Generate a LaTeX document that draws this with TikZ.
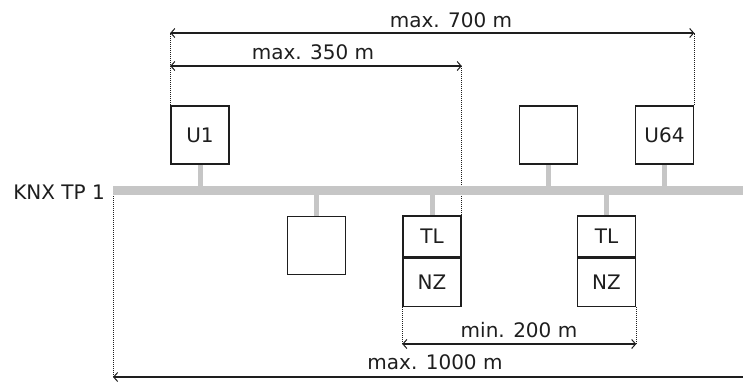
\documentclass[tikz,border=0pt]{standalone}
\usepackage{fontspec}
\setmainfont{DejaVu Sans}
\usetikzlibrary{arrows.meta}
\definecolor{buscolor}{HTML}{C6C6C6}
\definecolor{inkcolor}{HTML}{1E1E1E}

\begin{document}
\begin{tikzpicture}[x=1pt, y=-1pt,
    every node/.style={font=\fontsize{20}{23}\selectfont, text=inkcolor},
    dev/.style={draw=inkcolor, fill=white, line width=1.6pt, minimum width=58pt, minimum height=58pt, inner sep=0pt},
    lab/.style={inner sep=0pt},
    bus/.style={buscolor, line width=9pt},
    stub/.style={buscolor, line width=5pt},
    dots/.style={inkcolor, line width=1pt, dash pattern=on 1pt off 1pt},
    dim/.style={inkcolor, line width=1.3pt},
    barb/.tip={Straight Barb[length=4pt, width=9pt, line width=1pt]},
]
\useasboundingbox (0,0) rectangle (743,381);
\clip (0,0) rectangle (743,381);

% devices above the line
\node[dev] (u1) at (200,135) {U1};
\node[dev] (ux) at (548.5,135) {};
\node[dev] (u64) at (664.5,135) {U64};

% devices below the line
\node[dev] (dx) at (316.5,245.5) {};
\node[dev, minimum height=41pt] (tl1) at (432,236.5) {TL};
\node[dev, minimum height=48pt, anchor=north] (nz1) at (tl1.south) {NZ};
\node[dev, minimum height=41pt] (tl2) at (606.5,236.5) {TL};
\node[dev, minimum height=48pt, anchor=north] (nz2) at (tl2.south) {NZ};

% levels of the dimension lines
\coordinate (lvl700) at (0,33);
\coordinate (lvl350) at (0,66);
\coordinate (lvl200) at (0,344);
\coordinate (lvl1000) at (0,377);
\coordinate (busl) at (113,190);
\coordinate (busr) at (743,190);

\coordinate (a700l) at (u1.north west |- lvl700);
\coordinate (a700r) at (u64.north east |- lvl700);
\coordinate (a350l) at (u1.north west |- lvl350);
\coordinate (a350r) at (tl1.north east |- lvl350);
\coordinate (a200l) at (nz1.south west |- lvl200);
\coordinate (a200r) at (nz2.south east |- lvl200);
\coordinate (a1000l) at (busl |- lvl1000);
\coordinate (a1000r) at (760,377);

% dotted helpers
\draw[dots] (u1.north west) -- (a700l);
\draw[dots] (u64.north east) -- (a700r);
\draw[dots] (tl1.north east) -- (a350r);
\draw[dots] (nz1.south west) -- (a200l);
\draw[dots] (nz2.south east) -- (a200r);
\draw[dots] (busl) -- (a1000l);

% the line and its stubs
\draw[bus] (busl) -- (busr);
\foreach \n in {u1, ux, u64}{
    \draw[stub] (\n.south) -- (\n.south |- busl);
}
\foreach \n in {dx, tl1, tl2}{
    \draw[stub] (\n.north) -- (\n.north |- busl);
}
\node[lab, anchor=east] (knx) at (105,192) {KNX TP 1};

% distances
\draw[dim, barb-barb] (a700l) -- (a700r);
\draw[dim, barb-barb] (a350l) -- (a350r);
\draw[dim, barb-barb] (a200l) -- (a200r);
\draw[dim, barb-] (a1000l) -- (a1000r);
\node[lab] (t700) at (451,20) {max. 700 m};
\node[lab] (t350) at (313,52) {max. 350 m};
\node[lab] (t200) at (519,330) {min. 200 m};
\node[lab] (t1000) at (435,362) {max. 1000 m};
\end{tikzpicture}
\end{document}
